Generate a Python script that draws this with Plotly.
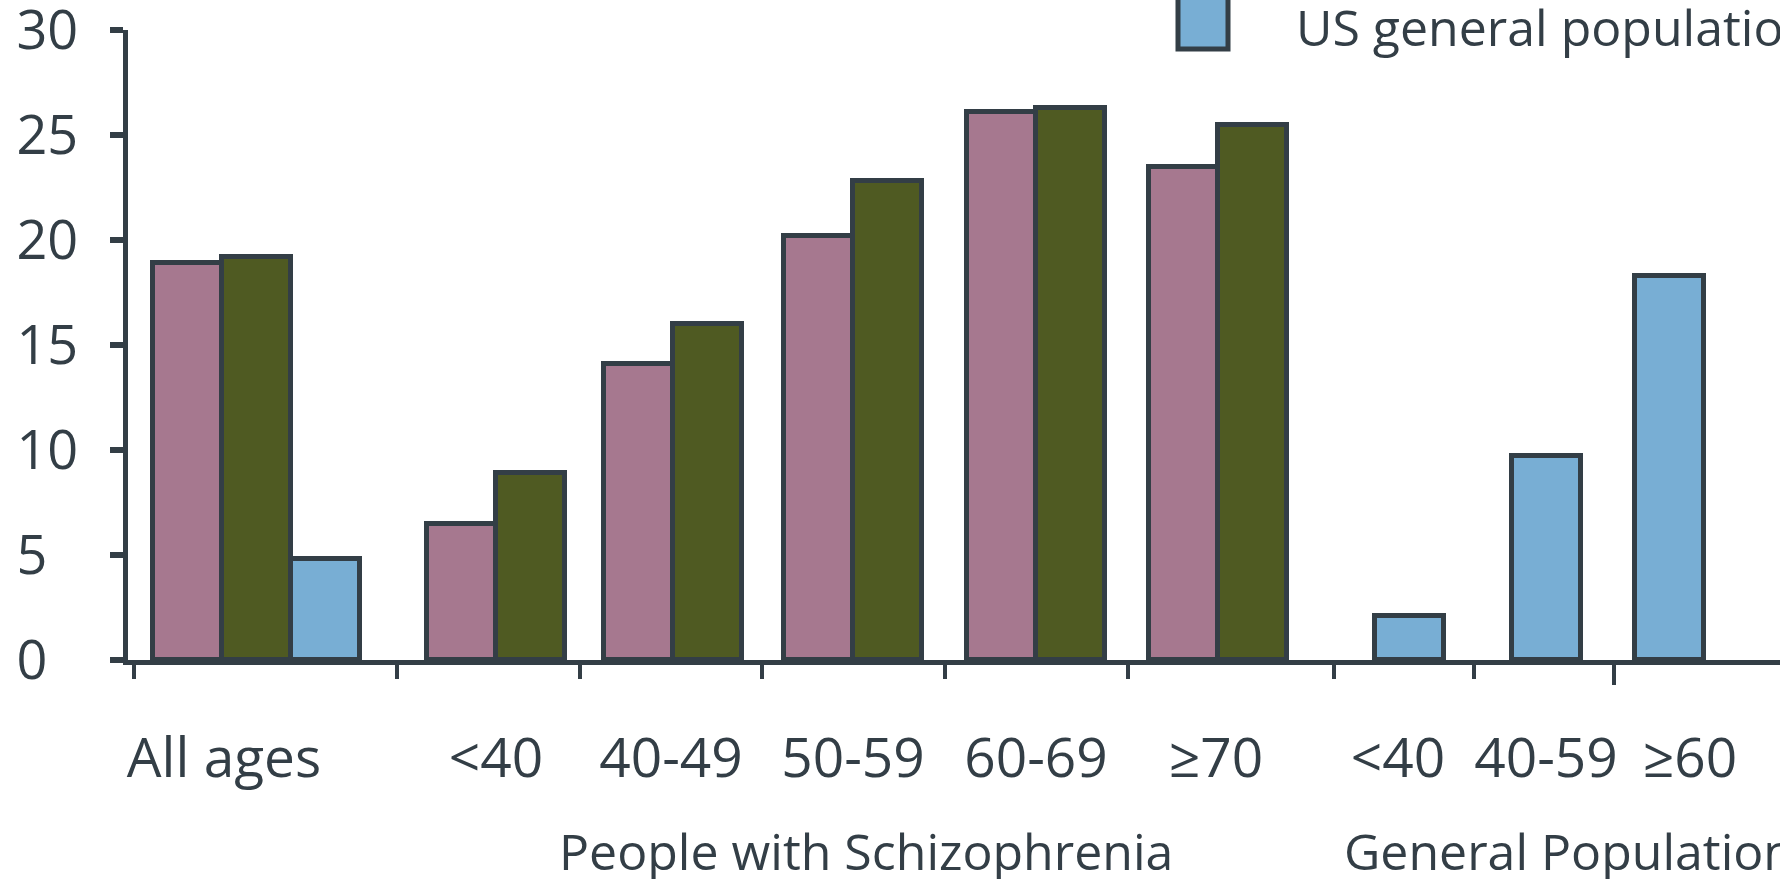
import plotly.graph_objects as go

# ---- data ----
categories = ["All ages", "<40", "40-49", "50-59", "60-69", "\u226570", "<40", "40-59", "\u226560"]
schiz_groups = ["All ages", "<40", "40-49", "50-59", "60-69", "\u226570"]
series_a = [18.9, 6.5, 14.1, 20.2, 26.1, 23.5]      # pink bars
series_b = [19.2, 8.9, 16.0, 22.8, 26.3, 25.5]      # olive bars
us_groups = ["All ages", "<40", "40-59", "\u226560"]
us_general = [4.8, 2.1, 9.7, 18.3]                   # blue bars
y_ticks = [0, 5, 10, 15, 20, 25, 30]

# ---- layout positions (axis units = pixels across the page) ----
schiz_pos = [222, 496, 673, 853, 1036, 1218]          # pink/olive boundary of each group
us_pos = [325.5, 1409.5, 1546, 1669]                  # centre of each blue bar
label_pos = [224, 496, 671, 853, 1036, 1216, 1398, 1546, 1690]
boundary_pos = [134, 397, 580, 762, 944.5, 1128, 1334, 1473.5]
long_boundary_pos = [1614]
BAR_W = 69

INK = "#333e46"
PINK = "#a6788f"
OLIVE = "#4f5a22"
BLUE = "#78aed4"
FONT = "Open Sans"

fig = go.Figure()
fig.add_trace(go.Bar(name="Schizophrenia sample A", x=schiz_pos, y=series_a,
                     width=BAR_W, offset=-BAR_W, marker=dict(color=PINK, line=dict(color=INK, width=5)),
                     showlegend=False, customdata=schiz_groups))
fig.add_trace(go.Bar(name="Schizophrenia sample B", x=schiz_pos, y=series_b,
                     width=BAR_W, offset=0, marker=dict(color=OLIVE, line=dict(color=INK, width=5)),
                     showlegend=False, customdata=schiz_groups))
fig.add_trace(go.Bar(name="US general population", x=us_pos, y=us_general,
                     width=BAR_W, marker=dict(color=BLUE, line=dict(color=INK, width=5)),
                     showlegend=False, customdata=us_groups))
# invisible traces to carry the boundary tick axes
fig.add_trace(go.Scatter(x=[boundary_pos[0]], y=[0], xaxis="x2", mode="markers",
                         marker=dict(opacity=0), showlegend=False, hoverinfo="skip"))
fig.add_trace(go.Scatter(x=[long_boundary_pos[0]], y=[0], xaxis="x3", mode="markers",
                         marker=dict(opacity=0), showlegend=False, hoverinfo="skip"))

FS = "\u2007"
tick_axis = dict(range=[128, 1780], overlaying="x", anchor="y", side="bottom",
                 showgrid=False, zeroline=False, showline=False, automargin=False,
                 tickmode="array", ticks="outside", tickwidth=4, tickcolor=INK,
                 showticklabels=False)
fig.update_layout(
    width=1780, height=879,
    margin=dict(l=128, r=0, t=30, b=219, autoexpand=False),
    paper_bgcolor="white", plot_bgcolor="white",
    font=dict(family=FONT, color=INK),
    bargap=0,
    xaxis=dict(range=[128, 1780], showgrid=False, zeroline=False, automargin=False,
               showline=True, linewidth=5, linecolor=INK,
               tickmode="array", tickvals=label_pos, ticktext=categories,
               ticks="", tickfont=dict(size=55, family=FONT, color=INK),
               ticklabelstandoff=46, ticklabeloverflow="allow"),
    xaxis2=dict(tick_axis, tickvals=boundary_pos, ticklen=18),
    xaxis3=dict(tick_axis, tickvals=long_boundary_pos, ticklen=24),
    yaxis=dict(range=[0, 30], showgrid=False, zeroline=False, automargin=False,
               showline=True, linewidth=5, linecolor=INK,
               tickmode="array", tickvals=y_ticks,
               ticktext=[(str(v) + FS) if v < 10 else str(v) for v in y_ticks],
               ticks="outside", ticklen=13, tickwidth=6, tickcolor=INK,
               tickfont=dict(size=54, family=FONT, color=INK),
               ticklabelstandoff=21, ticklabeloverflow="allow"),
)

fig.add_annotation(text="People with Schizophrenia", x=866, xref="x",
                   y=(660 - 851) / 630, yref="paper", yanchor="middle", xanchor="center",
                   showarrow=False, font=dict(size=50, family=FONT, color=INK))
fig.add_annotation(text="General Population", x=1342, xref="x",
                   y=(660 - 851) / 630, yref="paper", yanchor="middle", xanchor="left",
                   showarrow=False, font=dict(size=50, family=FONT, color=INK))
# legend entry (top of the legend lies outside the page)
fig.add_shape(type="rect", xref="x", yref="paper", x0=1178, x1=1228,
              y0=(660 - 49) / 630, y1=1.15, fillcolor=BLUE, line=dict(color=INK, width=5),
              layer="above")
fig.add_annotation(text="US general population", x=1294, xref="x",
                   y=(660 - 27) / 630, yref="paper", yanchor="middle", xanchor="left",
                   showarrow=False, font=dict(size=50, family=FONT, color=INK))

fig.write_html("out.html", config={"displayModeBar": False},
               post_script="document.body.style.margin='0';")
